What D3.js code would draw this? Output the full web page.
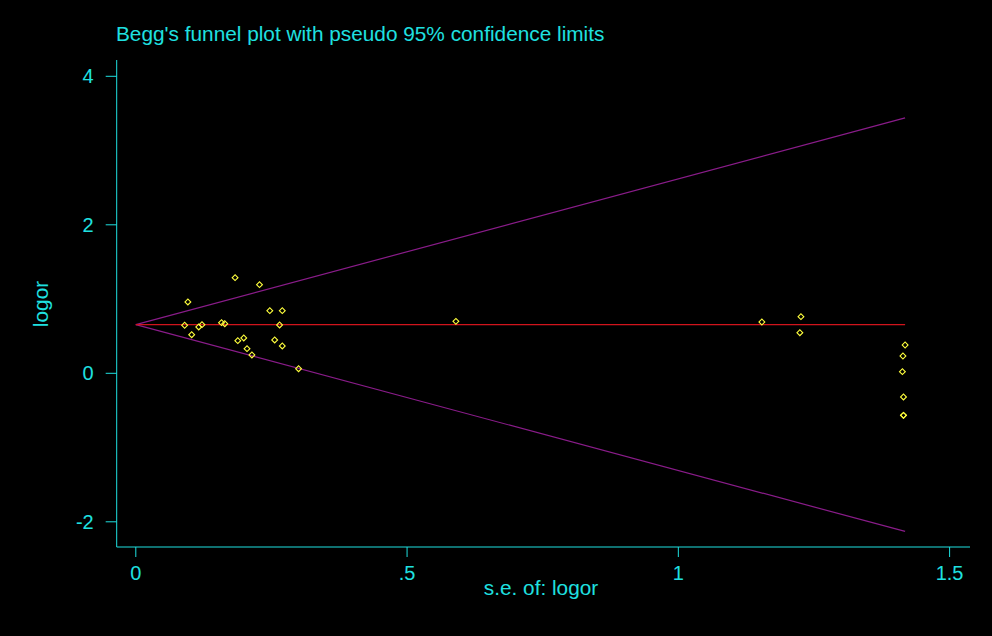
<!DOCTYPE html>
<html>
<head>
<meta charset="utf-8">
<script src="https://cdn.jsdelivr.net/npm/d3@7"></script>
<style>
  html, body { margin: 0; padding: 0; background: #000; }
  svg { display: block; }
  text { font-family: "Liberation Sans", Arial, sans-serif; fill: #1fe0e0; }
</style>
</head>
<body>
<svg id="canvas" width="992" height="636"></svg>
<script>
(function() {
  // study standard errors and log odds ratios
  var se = [0.183, 0.228, 0.096, 0.247, 0.270, 0.090, 0.116, 0.122, 0.158, 0.164,
            0.265, 0.103, 0.188, 0.199, 0.256, 0.270, 0.205, 0.214, 0.300, 0.590,
            1.154, 1.226, 1.224, 1.418, 1.414, 1.413, 1.415, 1.415, 1.415];
  var logor = [1.288, 1.194, 0.961, 0.844, 0.844, 0.647, 0.624, 0.655, 0.682, 0.668,
               0.651, 0.520, 0.440, 0.476, 0.449, 0.368, 0.332, 0.247, 0.062, 0.700,
               0.691, 0.763, 0.547, 0.381, 0.233, 0.022, -0.319, -0.566, -0.566];

  // pooled estimate and pseudo 95% limits (end points)
  var limitSE = [0, 1.418];
  var pooled = [0.655, 0.655];
  var upper = [0.655, 3.44];
  var lower = [0.655, -2.13];

  var xTicks = [0, 0.5, 1, 1.5];
  var xTickLabels = ["0", ".5", "1", "1.5"];
  var yTicks = [-2, 0, 2, 4];

  var cyan = "#1fe0e0";
  var svg = d3.select("#canvas");

  var x = d3.scaleLinear().domain([0, 1.5]).range([135.8, 949.6]);
  var y = d3.scaleLinear().domain([0, 4]).range([373.3, 76.3]);

  // axes
  var xAxis = svg.append("g").attr("transform", "translate(0,547)");
  xAxis.append("line").attr("x1", 116.7).attr("x2", 970).attr("y1", 0).attr("y2", 0)
    .attr("stroke", cyan).attr("stroke-width", 1);
  xAxis.selectAll(".xt").data(xTicks).join("line")
    .attr("x1", d => x(d)).attr("x2", d => x(d)).attr("y1", 0).attr("y2", 10)
    .attr("stroke", cyan);
  xAxis.selectAll(".xl").data(xTicks).join("text")
    .attr("x", d => x(d)).attr("y", 33)
    .attr("text-anchor", "middle").style("font-size", "20px")
    .text((d, i) => xTickLabels[i]);

  var yAxis = svg.append("g").attr("transform", "translate(116.7,0)");
  yAxis.append("line").attr("x1", 0).attr("x2", 0).attr("y1", 60).attr("y2", 547)
    .attr("stroke", cyan);
  yAxis.selectAll(".yt").data(yTicks).join("line")
    .attr("x1", -11).attr("x2", 0).attr("y1", d => y(d)).attr("y2", d => y(d))
    .attr("stroke", cyan);
  yAxis.selectAll(".yl").data(yTicks).join("text")
    .attr("x", -23).attr("y", d => y(d) + 7)
    .attr("text-anchor", "end").style("font-size", "20px")
    .text(d => d);

  // titles
  svg.append("text").attr("x", 116).attr("y", 41).style("font-size", "20.8px")
    .text("Begg's funnel plot with pseudo 95% confidence limits");
  svg.append("text").attr("x", 541).attr("y", 595).attr("text-anchor", "middle")
    .style("font-size", "20.8px").text("s.e. of: logor");
  svg.append("text").attr("transform", "translate(48,304) rotate(-90)")
    .attr("text-anchor", "middle").style("font-size", "20.8px").text("logor");

  // lines
  var line = d3.line().x(d => x(d[0])).y(d => y(d[1]));
  [[upper, "#8a1c8a"], [lower, "#8a1c8a"], [pooled, "#d0141c"]].forEach(function(p) {
    svg.append("path")
      .attr("d", line(limitSE.map((s, i) => [s, p[0][i]])))
      .attr("fill", "none").attr("stroke", p[1]).attr("stroke-width", 1.2);
  });

  // hollow diamonds
  var sym = d3.symbol().type(d3.symbolSquare).size(17);
  svg.append("g").selectAll("path")
    .data(se.map((s, i) => [s, logor[i]]))
    .join("path")
    .attr("d", sym)
    .attr("transform", d => "translate(" + x(d[0]) + "," + y(d[1]) + ") rotate(45)")
    .attr("fill", "none").attr("stroke", "#ffff3c").attr("stroke-width", 1.1);
})();
</script>
</body>
</html>
